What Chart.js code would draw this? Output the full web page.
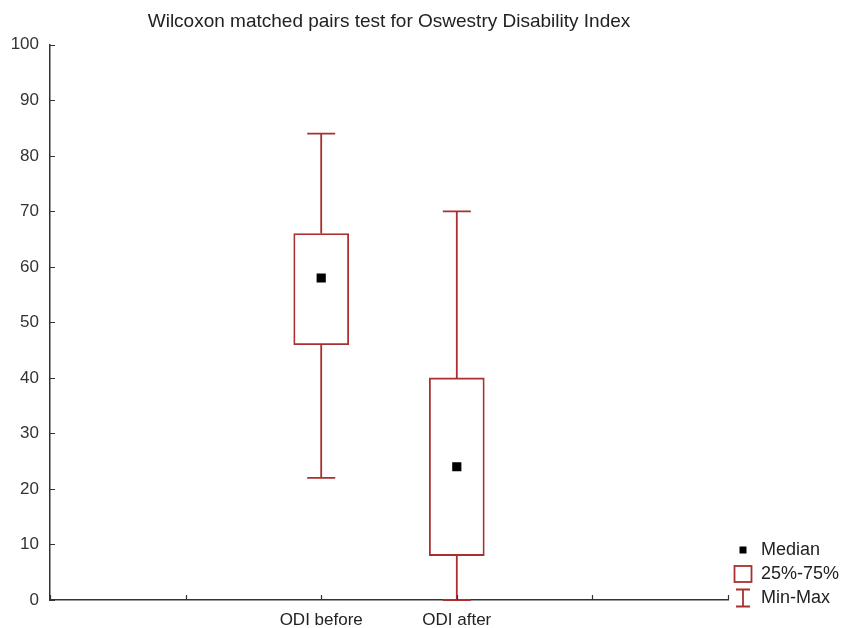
<!DOCTYPE html>
<html>
<head>
<meta charset="utf-8">
<script src="https://cdn.jsdelivr.net/npm/chart.js@4"></script>
<style>
  html, body { margin: 0; padding: 0; background: #fff; }
  #wrap { width: 841px; height: 628px; }
</style>
</head>
<body>
<div id="wrap"><canvas id="odiChart"></canvas></div>
<script>
// dados do grafico
var axisLabels = ['', '', 'ODI before', 'ODI after', '', ''];
var categories = ['ODI before', 'ODI after'];
var minValues = [22, 0];
var q1Values = [46, 8];
var medianValues = [58, 24];
var q3Values = [66, 40];
var maxValues = [84, 70];
var yTicks = [0, 10, 20, 30, 40, 50, 60, 70, 80, 90, 100];

var red = '#aa3030';
var axisColor = '#333333';
var fontFamily = 'Liberation Sans, Arial, sans-serif';

function makeIcon(w, h, draw) {
  var c = document.createElement('canvas');
  c.width = w; c.height = h;
  draw(c.getContext('2d'));
  return c;
}
var iconMedian = makeIcon(16, 16, function (ctx) {
  ctx.fillStyle = '#000'; ctx.fillRect(4.5, 4.5, 7, 7);
});
var iconBox = makeIcon(20, 18, function (ctx) {
  ctx.strokeStyle = red; ctx.lineWidth = 1.8; ctx.strokeRect(1.5, 1, 17, 16);
});
var iconRange = makeIcon(18, 20, function (ctx) {
  ctx.strokeStyle = red; ctx.lineWidth = 1.8;
  ctx.beginPath();
  ctx.moveTo(2, 1.5); ctx.lineTo(16, 1.5);
  ctx.moveTo(9, 1.5); ctx.lineTo(9, 18.5);
  ctx.moveTo(2, 18.5); ctx.lineTo(16, 18.5);
  ctx.stroke();
});

// bigodes (min-max) e marcas dos eixos para dentro
var whiskerPlugin = {
  id: 'whiskers',
  afterLayout: function (chart) {
    // legenda alinhada com o eixo x, nao com o fundo do canvas
    var lg = chart.legend;
    var shift = lg.bottom - (chart.chartArea.bottom + 13);
    lg.top -= shift;
    lg.bottom -= shift;
  },
  beforeDatasetsDraw: function (chart) {
    var ctx = chart.ctx, xs = chart.scales.x, ys = chart.scales.y;
    var labels = xs.getLabels();
    ctx.save();
    ctx.strokeStyle = red;
    ctx.lineWidth = 1.8;
    categories.forEach(function (cat, i) {
      var px = xs.getPixelForValue(labels.indexOf(cat));
      var yMax = ys.getPixelForValue(maxValues[i]);
      var yQ3 = ys.getPixelForValue(q3Values[i]);
      var yQ1 = ys.getPixelForValue(q1Values[i]);
      var yMin = ys.getPixelForValue(minValues[i]);
      ctx.beginPath();
      ctx.moveTo(px, yQ3); ctx.lineTo(px, yMax);
      ctx.moveTo(px - 14, yMax); ctx.lineTo(px + 14, yMax);
      ctx.moveTo(px, yQ1); ctx.lineTo(px, yMin);
      ctx.moveTo(px - 14, yMin); ctx.lineTo(px + 14, yMin);
      ctx.stroke();
    });
    ctx.restore();
  },
  afterDraw: function (chart) {
    var ctx = chart.ctx, xs = chart.scales.x, ys = chart.scales.y;
    ctx.save();
    ctx.strokeStyle = axisColor;
    ctx.lineWidth = 1.2;
    ctx.beginPath();
    ys.ticks.forEach(function (t, i) {
      var py = Math.round(ys.getPixelForTick(i)) + 0.5;
      ctx.moveTo(xs.left, py); ctx.lineTo(xs.left + 5, py);
    });
    xs.ticks.forEach(function (t, i) {
      var px = Math.round(xs.getPixelForTick(i)) + 0.5;
      ctx.moveTo(px, ys.bottom); ctx.lineTo(px, ys.bottom - 5);
    });
    ctx.stroke();
    ctx.restore();
  }
};

var ctxOdi = document.getElementById('odiChart').getContext('2d');
new Chart(ctxOdi, {
  type: 'bar',
  data: {
    labels: axisLabels,
    datasets: [{
      type: 'line',
      label: 'Median',
      data: categories.map(function (c, i) { return { x: c, y: medianValues[i] }; }),
      showLine: false,
      pointStyle: 'rect',
      pointRadius: 6.5,
      pointBorderWidth: 0,
      backgroundColor: '#000',
      borderColor: '#000'
    }, {
      label: '25%-75%',
      data: categories.map(function (c, i) { return { x: c, y: [q1Values[i], q3Values[i]] }; }),
      backgroundColor: '#ffffff',
      borderColor: red,
      borderWidth: 1.8,
      borderSkipped: false,
      barThickness: 55
    }]
  },
  options: {
    responsive: true,
    maintainAspectRatio: false,
    animation: false,
    layout: { padding: { right: 0, bottom: 0 } },
    plugins: {
      title: {
        display: true,
        fullSize: false,
        text: 'Wilcoxon matched pairs test for Oswestry Disability Index',
        color: '#222',
        font: { family: fontFamily, size: 19, weight: 'normal' },
        padding: { top: 10, bottom: 12 }
      },
      legend: {
        position: 'right',
        align: 'end',
        maxWidth: 113,
        onClick: null,
        labels: {
          usePointStyle: true,
          pointStyleWidth: 18,
          padding: 6,
          color: '#222',
          font: { family: fontFamily, size: 18 },
          generateLabels: function () {
            return [
              { text: 'Median', pointStyle: iconMedian, lineWidth: 0, hidden: false, fontColor: '#222' },
              { text: '25%-75%', pointStyle: iconBox, lineWidth: 0, hidden: false, fontColor: '#222' },
              { text: 'Min-Max', pointStyle: iconRange, lineWidth: 0, hidden: false, fontColor: '#222' }
            ];
          }
        }
      },
      tooltip: { enabled: false }
    },
    scales: {
      x: {
        type: 'category',
        offset: false,
        z: 1,
        grid: { display: false, drawTicks: false },
        border: { display: true, color: axisColor, width: 1.5 },
        ticks: {
          autoSkip: false,
          maxRotation: 0,
          padding: 10,
          color: '#222',
          font: { family: fontFamily, size: 17 }
        },
        afterFit: function (s) { s.height = 28; }
      },
      y: {
        min: 0,
        max: 100,
        grid: { display: false, drawTicks: false },
        border: { display: true, color: axisColor, width: 1.5 },
        afterBuildTicks: function (s) { s.ticks = yTicks.map(function (v) { return { value: v }; }); },
        ticks: {
          padding: 11,
          color: '#333',
          font: { family: fontFamily, size: 17 }
        },
        afterFit: function (s) { s.width = 50; }
      }
    }
  },
  plugins: [whiskerPlugin]
});
</script>
</body>
</html>
